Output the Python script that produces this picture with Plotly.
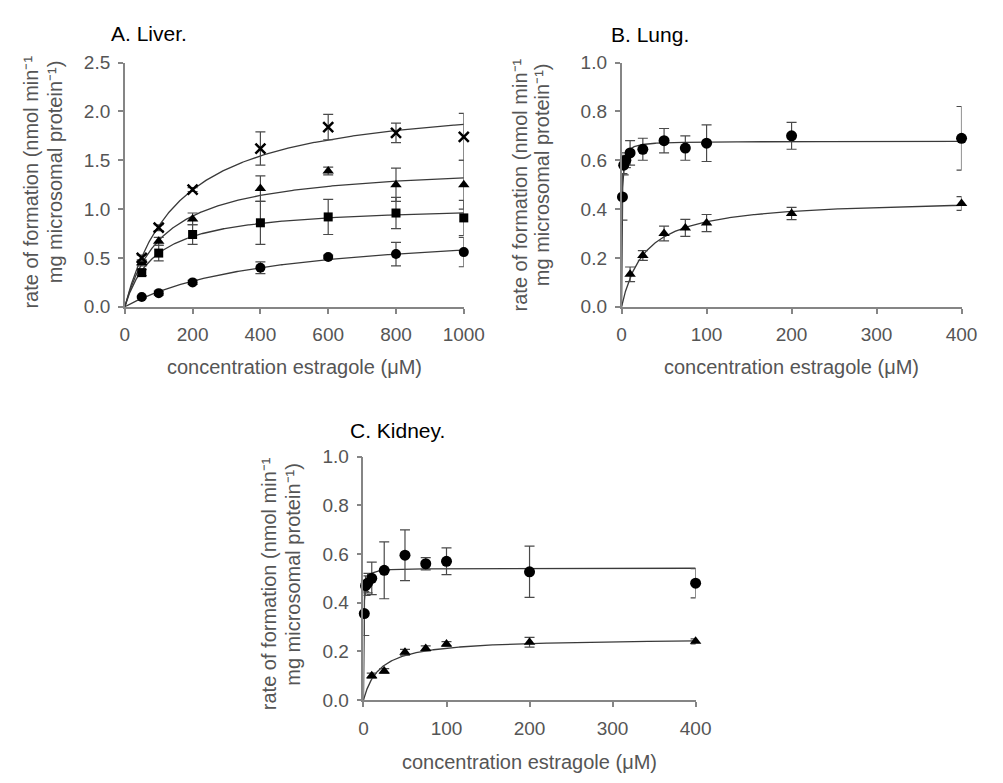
import numpy as np
import plotly.graph_objects as go

# ---------------- data ----------------
# Panel A (liver)
A_conc = [50, 100, 200, 400, 600, 800, 1000]
A_cross = [0.50, 0.81, 1.20, 1.62, 1.84, 1.78, 1.74]
A_cross_err = [0.03, 0.03, 0.02, 0.17, 0.13, 0.10, 0.24]
A_tri = [0.45, 0.67, 0.90, 1.21, 1.39, 1.25, 1.25]
A_tri_err = [0.03, 0.04, 0.06, 0.13, 0.04, 0.17, 0.25]
A_sq = [0.35, 0.55, 0.74, 0.86, 0.92, 0.96, 0.91]
A_sq_err = [0.03, 0.08, 0.10, 0.22, 0.18, 0.16, 0.18]
A_circ = [0.10, 0.14, 0.25, 0.40, 0.51, 0.54, 0.56]
A_circ_err = [0.01, 0.02, 0.02, 0.06, 0.02, 0.12, 0.15]
# fitted Michaelis-Menten parameters (Vmax, Km) for the curves, panel A
A_vmax = [2.17, 1.474, 1.048, 0.83]
A_km = [162, 117, 91, 430]

# Panel B (lung)
B_conc_c = [1, 2.5, 5, 10, 25, 50, 75, 100, 200, 400]
B_circ = [0.45, 0.58, 0.60, 0.63, 0.645, 0.68, 0.65, 0.67, 0.70, 0.69]
B_circ_err = [0.095, 0.04, 0.03, 0.05, 0.045, 0.05, 0.05, 0.075, 0.055, 0.13]
B_conc_t = [10, 25, 50, 75, 100, 200, 400]
B_tri = [0.133, 0.21, 0.30, 0.323, 0.343, 0.382, 0.423]
B_tri_err = [0.03, 0.02, 0.03, 0.035, 0.035, 0.025, 0.028]
B_vmax = [0.678, 0.444]
B_km = [0.5, 27.5]

# Panel C (kidney)
C_conc_c = [1, 2.5, 5, 10, 25, 50, 75, 100, 200, 400]
C_circ = [0.355, 0.47, 0.48, 0.50, 0.533, 0.595, 0.56, 0.57, 0.527, 0.48]
C_circ_err = [0.09, 0.04, 0.04, 0.067, 0.117, 0.104, 0.025, 0.055, 0.105, 0.06]
C_conc_t = [10, 25, 50, 75, 100, 200, 400]
C_tri = [0.10, 0.119, 0.196, 0.212, 0.23, 0.237, 0.241]
C_tri_err = [0.01, 0.01, 0.012, 0.01, 0.01, 0.02, 0.01]
C_vmax = [0.542, 0.255]
C_km = [0.4, 19.8]

A_xticks = [0, 200, 400, 600, 800, 1000]
A_yticks = [0, 0.5, 1.0, 1.5, 2.0, 2.5]
BC_xticks = [0, 100, 200, 300, 400]
BC_yticks = [0, 0.2, 0.4, 0.6, 0.8, 1.0]

# ---------------- styling ----------------
FONT = "Liberation Sans, Arial, sans-serif"
AXIS_COL = "#858585"
TICK_COL = "#555555"
CURVE_COL = "#3a3a3a"
ERR_COL = "#4a4a4a"

fig = go.Figure()


def mm_curve(vmax, km, xmax):
    x = np.concatenate([np.linspace(0, 5, 101), np.linspace(5, xmax, 400)[1:]])
    return x, vmax * x / (km + x)


def add_curve(xa, ya, vmax, km, xmax):
    x, y = mm_curve(vmax, km, xmax)
    fig.add_trace(go.Scatter(x=x, y=y, mode="lines", xaxis=xa, yaxis=ya,
                             line=dict(color=CURVE_COL, width=1.3),
                             showlegend=False, hoverinfo="skip"))


def add_points(xa, ya, x, y, err, symbol, size, lw=0):
    marker = dict(symbol=symbol, size=size, color="black")
    if lw:
        marker["line"] = dict(color="black", width=lw)
    fig.add_trace(go.Scatter(x=x, y=y, mode="markers", xaxis=xa, yaxis=ya,
                             marker=marker, cliponaxis=False, showlegend=False,
                             error_y=dict(type="data", array=err, visible=True,
                                          color=ERR_COL, thickness=1.2, width=5)))


# Panel A
for vm, km in zip(A_vmax, A_km):
    add_curve("x", "y", vm, km, 1000)
add_points("x", "y", A_conc, A_circ, A_circ_err, "circle", 10)
add_points("x", "y", A_conc, A_sq, A_sq_err, "square", 9)
add_points("x", "y", A_conc, A_tri, A_tri_err, "triangle-up", 10)
add_points("x", "y", A_conc, A_cross, A_cross_err, "x-thin", 10, lw=2.5)

# Panel B
for vm, km in zip(B_vmax, B_km):
    add_curve("x2", "y2", vm, km, 400)
add_points("x2", "y2", B_conc_c, B_circ, B_circ_err, "circle", 11)
add_points("x2", "y2", B_conc_t, B_tri, B_tri_err, "triangle-up", 10)

# Panel C
for vm, km in zip(C_vmax, C_km):
    add_curve("x3", "y3", vm, km, 400)
add_points("x3", "y3", C_conc_c, C_circ, C_circ_err, "circle", 11)
add_points("x3", "y3", C_conc_t, C_tri, C_tri_err, "triangle-up", 10)

W, H = 1003, 783


def px(x):
    return x / W


def py(y):
    return 1 - y / H


axis_common = dict(showline=True, linecolor=AXIS_COL, linewidth=1.5,
                   ticks="outside", ticklen=5, tickwidth=1.5, tickcolor=AXIS_COL,
                   showgrid=False, zeroline=False,
                   tickfont=dict(family=FONT, size=19, color=TICK_COL))
xcommon = dict(ticklabelstandoff=5, **axis_common)
ycommon = dict(ticklabelstandoff=4, tickformat=".1f", **axis_common)

fig.update_layout(
    width=W, height=H,
    margin=dict(l=0, r=0, t=0, b=0),
    paper_bgcolor="white", plot_bgcolor="white",
    showlegend=False,
    xaxis=dict(domain=[px(123), px(471)], range=[0, 1000], tickvals=A_xticks,
               anchor="y", **xcommon),
    yaxis=dict(domain=[py(305), py(54)], range=[0, 2.5], tickvals=A_yticks,
               anchor="x", **ycommon),
    xaxis2=dict(domain=[px(633), px(982)], range=[0, 400], tickvals=BC_xticks,
                anchor="y2", **xcommon),
    yaxis2=dict(domain=[py(305), py(54)], range=[0, 1.0], tickvals=BC_yticks,
                anchor="x2", **ycommon),
    xaxis3=dict(domain=[px(368), px(709)], range=[0, 400], tickvals=BC_xticks,
                anchor="y3", **xcommon),
    yaxis3=dict(domain=[py(709), py(459)], range=[0, 1.0], tickvals=BC_yticks,
                anchor="x3", **ycommon),
)

titles = [("A. Liver.", 107, 24), ("B. Lung.", 620, 25), ("C. Kidney.", 352, 432)]
for text, x, y in titles:
    fig.add_annotation(text=text, x=px(x), y=py(y), xref="paper", yref="paper",
                       xanchor="left", yanchor="middle", showarrow=False,
                       font=dict(family=FONT, size=21, color="black"))

xtitle = "concentration estragole (\u03bcM)"
for x, y in [(297, 367), (807, 367), (538, 773)]:
    fig.add_annotation(text=xtitle, x=px(x), y=py(y), xref="paper", yref="paper",
                       xanchor="center", yanchor="middle", showarrow=False,
                       font=dict(family=FONT, size=20, color=TICK_COL))

ytitle_l1 = "rate of formation (nmol min\u207b\u00b9"
ytitle_l2 = "mg microsomal protein\u207b\u00b9)"
# (line1 x, line1 y, line2 x, line2 y) centers
ypos = [(27, 177, 51, 166), (529, 180, 552, 169), (271, 589, 296, 580)]
for x1, y1, x2, y2 in ypos:
    for t, x, y in [(ytitle_l1, x1, y1), (ytitle_l2, x2, y2)]:
        fig.add_annotation(text=t, x=px(x), y=py(y), xref="paper", yref="paper",
                           xanchor="center", yanchor="middle", showarrow=False,
                           textangle=-90,
                           font=dict(family=FONT, size=20, color=TICK_COL))

fig.write_html("out.html")
